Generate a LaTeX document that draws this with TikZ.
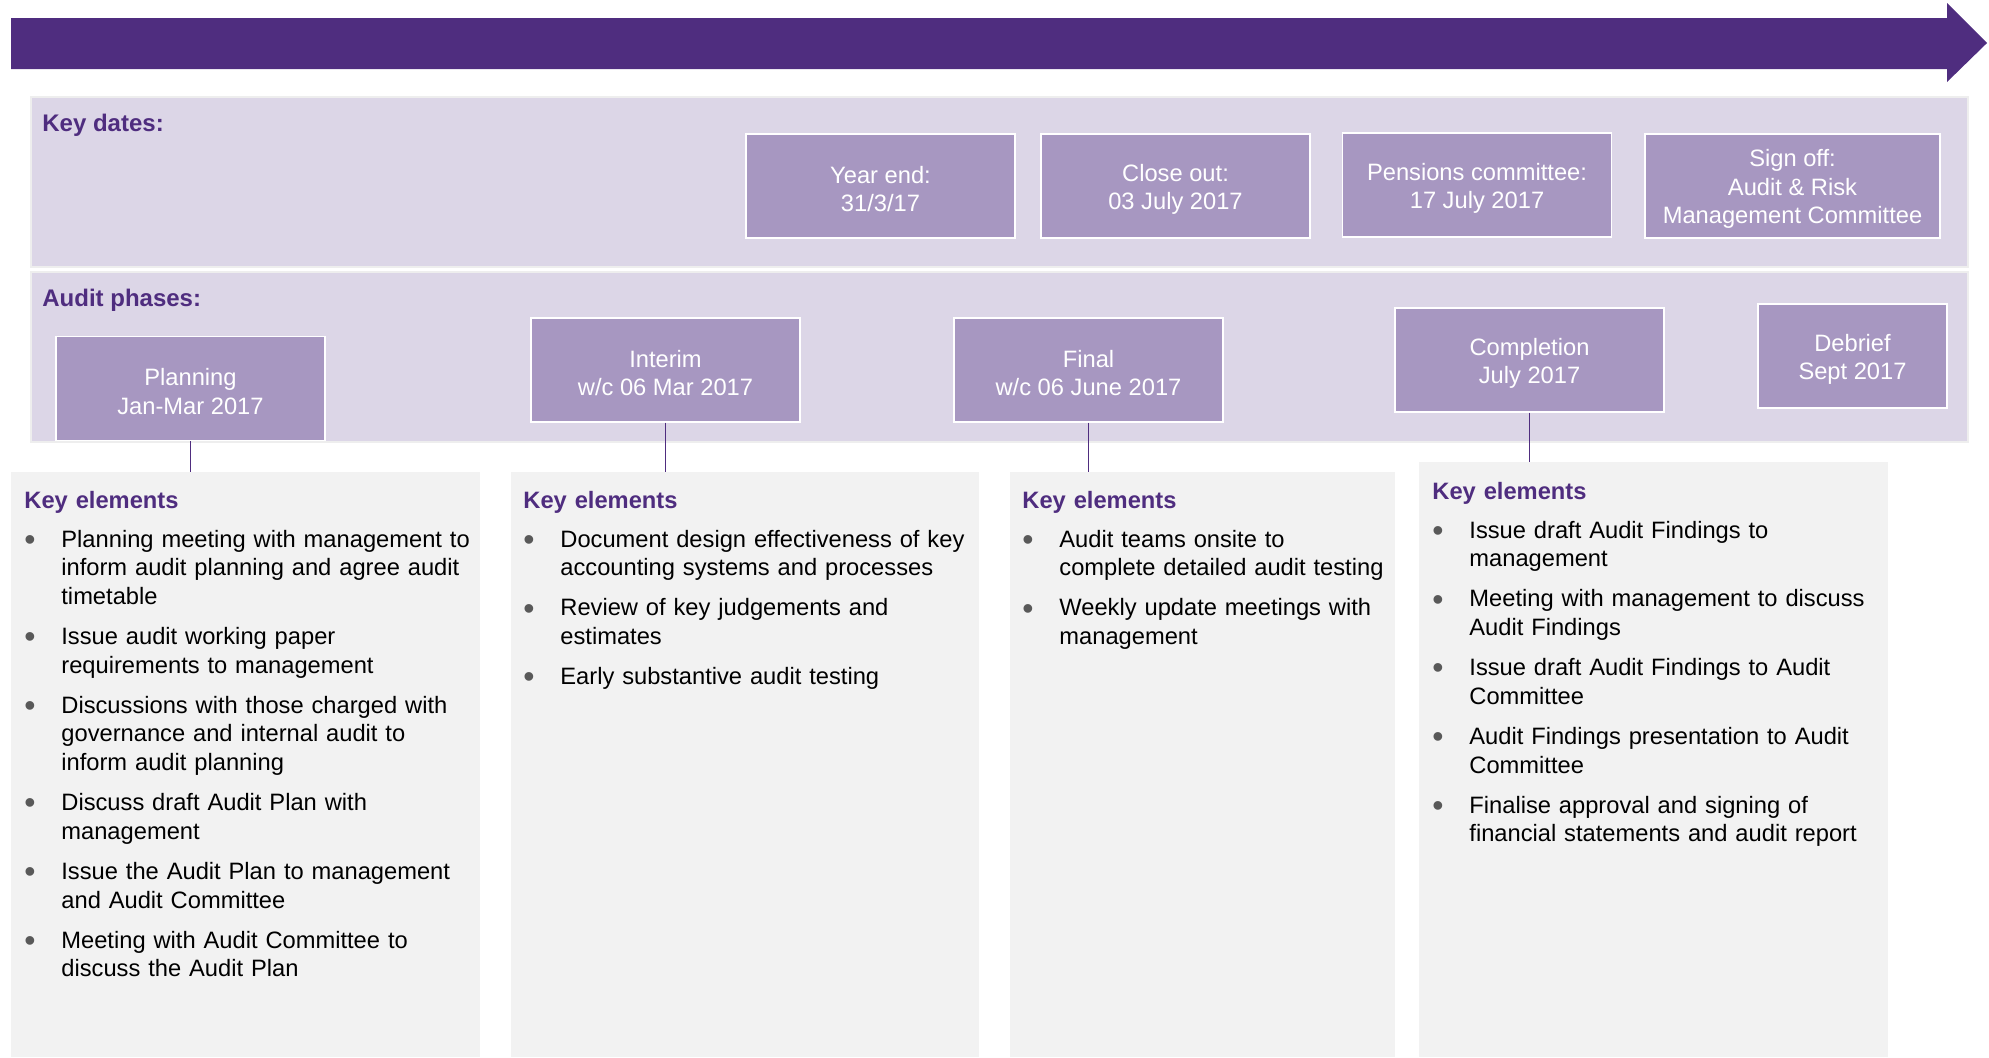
\documentclass[tikz,border=0pt]{standalone}
\usepackage{fontspec}
\setmainfont{Liberation Sans}
\usepackage{xcolor}
\usetikzlibrary{positioning, calc}

\definecolor{gtpurple}{HTML}{4F2D7F}
\definecolor{bandlav}{HTML}{DCD6E7}
\definecolor{bandedge}{HTML}{EEEEEE}
\definecolor{boxlav}{HTML}{A797C1}
\definecolor{panelgray}{HTML}{F2F2F2}
\definecolor{bulgray}{HTML}{595959}

% puce grise
\newcommand{\keybullet}{\raisebox{-1.6pt}{\fontsize{16}{14}\selectfont\textcolor{bulgray}{\textbullet}}}
% etai pour descendre le texte des boites
\newcommand{\boxstrut}{\rule{0pt}{11.8pt}}

% liste a puces des panneaux
\newenvironment{keylist}{%
  \begin{list}{\keybullet}{%
    \setlength{\leftmargin}{18.5pt}%
    \setlength{\labelwidth}{18.5pt}%
    \setlength{\labelsep}{0pt}%
    \setlength{\itemindent}{0pt}%
    \setlength{\itemsep}{5.8pt}%
    \setlength{\parsep}{0pt}%
    \setlength{\topsep}{5.2pt}%
    \setlength{\partopsep}{0pt}%
    \def\makelabel##1{##1\hfil}}}%
  {\end{list}}

\begin{document}
\begin{tikzpicture}[
		x=0.5pt, y=-0.5pt,
		font=\fontsize{11.85}{14.3}\selectfont,
		band/.style={draw=bandedge, fill=bandlav, line width=1pt, anchor=north west, minimum width=968.5pt, minimum height=85pt},
		datebox/.style={draw=white, fill=boxlav, text=white, line width=0.6pt, align=center, minimum width=134.5pt, minimum height=52pt, inner sep=1pt},
		panel/.style={fill=panelgray, anchor=north west, inner sep=0pt, minimum height=292.5pt},
		keytext/.style={anchor=north west, inner sep=0pt, text width=240pt, align=left},
		heading/.style={font=\fontsize{12}{14.3}\selectfont\bfseries, text=gtpurple, anchor=base west, inner sep=0pt},
		conn/.style={draw=gtpurple, line width=0.7pt}
		]
		\useasboundingbox (0,0) rectangle (1989,1057);
		
		% La fleche
		\fill[gtpurple] (11,18) -- (1947,18) -- (1947,3) -- (1987,43) -- (1947,82) -- (1947,69) -- (11,69) -- cycle;
		
		% Les bandes
		\node[band] (dates) at (30,96) {};
		\node[band] (phases) at (30,271) {};
		\node[heading] (kd) at (42,131) {Key dates:};
		\node[heading] (ap) at (42,306) {Audit phases:};
		
		% Les dates
		\node[datebox] (yend) at (880.5,186) {\boxstrut Year end:\\31/3/17};
		\node[datebox] (close) at (1175.5,186) {\boxstrut Close out:\\03 July 2017};
		\node[datebox] (pens) at (1477,185) {\boxstrut Pensions committee:\\17 July 2017};
		\node[datebox, minimum width=147.5pt] (sign) at (1792.5,186) {\boxstrut Sign off:\\Audit \& Risk\\Management Committee};
		
		% Les phases
		\node[datebox] (plan) at (190.5,388.5) {\boxstrut Planning\\Jan-Mar 2017};
		\node[datebox] (interim) at (665.5,370) {\boxstrut Interim\\w/c 06 Mar 2017};
		\node[datebox] (final) at (1088.5,370) {\boxstrut Final\\w/c 06 June 2017};
		\node[datebox] (compl) at (1529.5,360) {\boxstrut Completion\\July 2017};
		\node[datebox, minimum width=94.5pt] (debrief) at (1852.5,356) {\boxstrut Debrief\\Sept 2017};
		
		% Les panneaux
		\node[panel, minimum width=234.5pt] (p1) at (11,472) {};
		\node[panel, minimum width=234pt] (p2) at (511,472) {};
		\node[panel, minimum width=192.5pt] (p3) at (1010,472) {};
		\node[panel, minimum width=234.5pt, minimum height=297.5pt] (p4) at (1419,462) {};
		
		% Les liens
		\draw[conn] (plan.south) -- (plan.south |- p1.north);
		\draw[conn] (interim.south) -- (interim.south |- p2.north);
		\draw[conn] (final.south) -- (final.south |- p3.north);
		\draw[conn] (compl.south) -- (compl.south |- p4.north);
		
		% Les textes
		\node[keytext] (t1) at (24,490.5) {{\bfseries\color{gtpurple}Key elements}\par
			\begin{keylist}
				\item Planning meeting with management to\newline inform audit planning and agree audit\newline timetable
				\item Issue audit working paper\newline requirements to management
				\item Discussions with those charged with\newline governance and internal audit to\newline inform audit planning
				\item Discuss draft Audit Plan with\newline management
				\item Issue the Audit Plan to management\newline and Audit Committee
				\item Meeting with Audit Committee to\newline discuss the Audit Plan
			\end{keylist}};
		\node[keytext] (t2) at (523,490.5) {{\bfseries\color{gtpurple}Key elements}\par
			\begin{keylist}
				\item Document design effectiveness of key\newline accounting systems and processes
				\item Review of key judgements and\newline estimates
				\item Early substantive audit testing
			\end{keylist}};
		\node[keytext] (t3) at (1022,490.5) {{\bfseries\color{gtpurple}Key elements}\par
			\begin{keylist}
				\item Audit teams onsite to\newline complete detailed audit testing
				\item Weekly update meetings with\newline management
			\end{keylist}};
		\node[keytext] (t4) at (1432,481.5) {{\bfseries\color{gtpurple}Key elements}\par
			\begin{keylist}
				\item Issue draft Audit Findings to\newline management
				\item Meeting with management to discuss\newline Audit Findings
				\item Issue draft Audit Findings to Audit\newline Committee
				\item Audit Findings presentation to Audit\newline Committee
				\item Finalise approval and signing of\newline financial statements and audit report
			\end{keylist}};
	\end{tikzpicture}
\end{document}
